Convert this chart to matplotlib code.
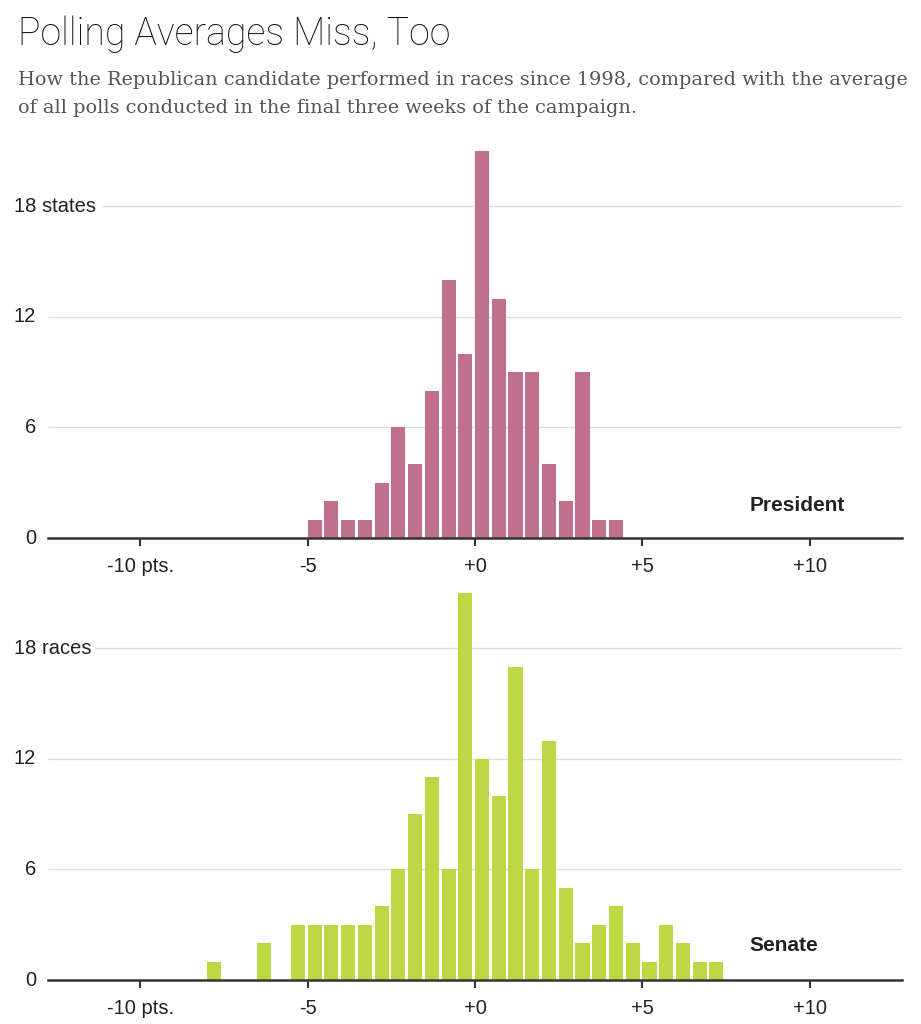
import numpy as np
import matplotlib
matplotlib.use("Agg")
from matplotlib import pyplot as plt
from matplotlib import transforms as mtransforms

# bins are half a point wide, value = left edge of bin
pres_bins = np.arange(-5.0, 4.5, 0.5)
pres_counts = [1, 2, 1, 1, 3, 6, 4, 8, 14, 10, 21, 13, 9, 9, 4, 2, 9, 1, 1]

sen_bins = np.arange(-8.0, 7.5, 0.5)
sen_counts = [1, 0, 0, 2, 0, 3, 3, 3, 3, 3, 4, 6, 9, 11, 6, 21, 12, 10, 17, 6,
              13, 5, 2, 3, 4, 2, 1, 3, 2, 1, 1]

xticks = [-10, -5, 0, 5, 10]
xtick_labels = ["-10 pts.", "-5", "+0", "+5", "+10"]
yticks = [0, 6, 12, 18]

W, H = 921, 1024
fig = plt.figure(figsize=(W / 100, H / 100), dpi=100)
fig.patch.set_facecolor("white")

sans = ["Liberation Sans", "DejaVu Sans"]

fig.text(18 / W, 1 - 45 / H, "Polling Averages Miss, Too", fontsize=27,
         family=["Roboto", "DejaVu Sans"], fontweight="light", color="#111111",
         va="baseline", ha="left")
fig.text(18 / W, 1 - 85 / H,
         "How the Republican candidate performed in races since 1998, compared with the average",
         fontsize=13.9, family=["DejaVu Serif"], color="#555555", va="baseline", ha="left")
fig.text(18 / W, 1 - 113 / H,
         "of all polls conducted in the final three weeks of the campaign.",
         fontsize=13.9, family=["DejaVu Serif"], color="#555555", va="baseline", ha="left")


def panel(bottom_px, bins, counts, color, unit, name, grid18_start, name_y):
    ymax = 21.5
    px_per_unit = 18.42
    height_px = ymax * px_per_unit
    ax = fig.add_axes([48 / W, 1 - bottom_px / H, 854 / W, height_px / H])
    ax.set_xlim(-12.75, 12.75)
    ax.set_ylim(0, ymax)
    for s in ["top", "right", "left"]:
        ax.spines[s].set_visible(False)
    ax.spines["bottom"].set_color("#333333")
    ax.spines["bottom"].set_linewidth(1.8)
    ax.spines["bottom"].set_zorder(5)

    # gridlines
    for y in [6, 12]:
        ax.hlines(y, -12.75, 12.75, color="#dddddd", lw=1, zorder=0)
    ax.hlines(18, grid18_start, 12.75, color="#dddddd", lw=1, zorder=0)

    ax.bar(bins, counts, width=0.42, align="edge", color=color, zorder=2)

    ax.set_yticks([])
    ax.set_xticks(xticks)
    ax.set_xticklabels(xtick_labels, family=sans, fontsize=14.5, color="#222222")
    ax.tick_params(axis="x", length=6, width=1.5, color="#333333", pad=8)

    tr = mtransforms.blended_transform_factory(fig.transFigure, ax.transData)
    for y in yticks:
        if y == 18:
            ax.text(14 / W, y, "18 " + unit, transform=tr, ha="left", va="center",
                    family=sans, fontsize=14.5, color="#222222")
        else:
            ax.text(36 / W, y, str(y), transform=tr, ha="right", va="center",
                    family=sans, fontsize=14.5, color="#222222")

    ax.text(8.2, name_y, name, ha="left", va="center", family=sans, fontsize=15,
            fontweight="bold", color="#222222")
    return ax


panel(538, pres_bins, pres_counts, "#c0708f", "states", "President", -11.15, 1.75)
panel(980, sen_bins, sen_counts, "#bdd745", "races", "Senate", -11.35, 1.9)

plt.savefig("out.png", dpi=100, facecolor="white")
